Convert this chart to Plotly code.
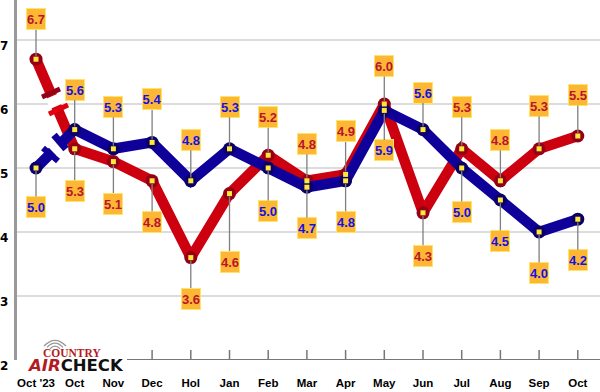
import plotly.graph_objects as go

# ---- data ----
months = ["Oct '23", "Oct", "Nov", "Dec", "Hol", "Jan", "Feb", "Mar", "Apr", "May", "Jun", "Jul", "Aug", "Sep", "Oct"]
red_values = [6.7, 5.3, 5.1, 4.8, 3.6, 4.6, 5.2, 4.8, 4.9, 6.0, 4.3, 5.3, 4.8, 5.3, 5.5]
blue_values = [5.0, 5.6, 5.3, 5.4, 4.8, 5.3, 5.0, 4.7, 4.8, 5.9, 5.6, 5.0, 4.5, 4.0, 4.2]
y_ticks = [2, 3, 4, 5, 6, 7]

# ---- label placement (pixel offset from each point) ----
red_offsets = [-40, 42, 42, 41, 41, 68, -38, -37, -43, -38, 43, -42, -41, -43, -41]
blue_offsets = [39, -40, -42, -43, -41, -42, 43, 41, 41, 40, -37, 44, 41, 41, 41]

# ---- geometry / style ----
W, H = 600, 392
PLOT_L, PLOT_B = 17, 32
PLOT_BOTTOM = H - PLOT_B
X0, STEP = 36.0, 38.7
Y7 = 40.0
UNIT = (PLOT_BOTTOM - Y7) / 5
RED, RED_DK = "#cc000f", "#940016"
BLUE, BLUE_DK = "#10009a", "#0a0068"
xs = list(range(len(months)))


def px_x(px):
    return (px - X0) / STEP


def px_y(py):
    return 7 - (py - Y7) / UNIT


def pap_x(px):
    return (px - PLOT_L) / (W - PLOT_L)


def pap_y(py):
    return (PLOT_BOTTOM - py) / PLOT_BOTTOM


fig = go.Figure()

# series lines, red below blue
for vals, col, dk, name in [(red_values, RED, RED_DK, "red"), (blue_values, BLUE, BLUE_DK, "blue")]:
    fig.add_trace(go.Scatter(x=xs, y=vals, mode="lines", name=name,
                             line=dict(color=col, width=10.5, shape="linear"),
                             hoverinfo="skip"))
    fig.add_trace(go.Scatter(x=xs, y=vals, mode="markers", name=name + " joints",
                             marker=dict(color=dk, size=13, line=dict(width=0)),
                             hoverinfo="skip"))
for vals in (red_values, blue_values):
    fig.add_trace(go.Scatter(x=xs, y=vals, mode="markers",
                             marker=dict(symbol="square", color="#ffe838", size=5,
                                         line=dict(width=0)),
                             hoverinfo="skip"))

shapes = []


def seg(x1, y1, x2, y2, col, w):
    shapes.append(dict(type="line", xref="x", yref="y", x0=px_x(x1), y0=px_y(y1),
                       x1=px_x(x2), y1=px_y(y2), line=dict(color=col, width=w)))


# axis-break marks on the first segment
seg(52.5, 96, 57, 106, "white", 15)      # red gap
seg(42, 97, 60, 89, RED_DK, 5)
seg(49, 114, 68, 105, "#e0000f", 5)
seg(52, 151, 60, 143.5, "white", 16)      # blue gap
seg(43, 148, 58, 161, BLUE, 6)
seg(54, 135, 66, 149, BLUE, 7)

# bottom ticks
for x in xs:
    shapes.append(dict(type="line", xref="x", yref="paper", x0=x, x1=x, y0=0, y1=10 / PLOT_BOTTOM,
                       line=dict(color="#777777", width=1.5)))

# white patch behind the logo
shapes.append(dict(type="rect", xref="paper", yref="paper", x0=pap_x(19), x1=pap_x(127),
                   y0=pap_y(374), y1=pap_y(348), fillcolor="white", line=dict(width=0)))
# logo radio arcs, drawn as plain x/y paths in data coordinates
for r, top in [(5, 346), (8, 343), (11, 340)]:
    cx = 55
    base = top + r * 0.55
    shapes.append(dict(type="path", xref="x", yref="y", layer="above",
                       path=f"M {px_x(cx - r):.4f},{px_y(base):.4f} Q {px_x(cx):.4f},{px_y(top - r * 0.5):.4f} {px_x(cx + r):.4f},{px_y(base):.4f}",
                       line=dict(color="#999999", width=1.3)))

annotations = []
BOX_FONT = "Liberation Sans"
for vals, offs, col in [(red_values, red_offsets, "#b8142e"), (blue_values, blue_offsets, "#1212e6")]:
    for x, v, off in zip(xs, vals, offs):
        annotations.append(dict(x=x, y=v, xref="x", yref="y", ax=0, ay=off, axref="pixel", ayref="pixel",
                                text=f"<b>{v:.1f}</b>", showarrow=True, arrowhead=0, arrowwidth=1.3,
                                arrowcolor="#808080", standoff=3,
                                font=dict(family=BOX_FONT, size=13, color=col),
                                bgcolor="#fdb734", bordercolor="#ffe46a", borderwidth=1,
                                width=18, height=20, borderpad=0, align="center", valign="middle"))

# y tick labels sit a little below their gridlines in the reference
for t in y_ticks:
    annotations.append(dict(x=0, y=t, xref="paper", yref="y", xanchor="center", yanchor="middle", xshift=-13,
                            yshift=-6, text=f"<b>{t}</b>", showarrow=False,
                            font=dict(family="DejaVu Sans", size=12, color="black")))

# logo
annotations.append(dict(x=pap_x(72), y=pap_y(353), xref="paper", yref="paper",
                        text='<b>COUNTRY</b>', showarrow=False, xanchor="center", yanchor="middle",
                        font=dict(family="Liberation Serif", size=11.5, color="#b31b22")))
annotations.append(dict(x=pap_x(75), y=pap_y(365), xref="paper", yref="paper",
                        text='<b><i><span style="color:#b31b22">AIR</span></i>CHECK</b>', showarrow=False,
                        xanchor="center", yanchor="middle",
                        font=dict(family="DejaVu Sans", size=16.5, color="#111111")))

fig.update_layout(
    width=W, height=H, autosize=False,
    margin=dict(l=PLOT_L, r=0, t=0, b=PLOT_B, pad=0),
    paper_bgcolor="white", plot_bgcolor="white", showlegend=False,
    shapes=shapes, annotations=annotations,
    xaxis=dict(range=[px_x(PLOT_L), px_x(W)], tickmode="array", tickvals=xs, ticktext=[f"<b>{m}</b>" for m in months],
               showgrid=False, zeroline=False, showline=False, ticks="", ticklabelstandoff=14,
               tickfont=dict(family="Liberation Sans", size=11.5, color="black"), tickangle=0),
    yaxis=dict(range=[2, px_y(0)], tickmode="array", tickvals=y_ticks, showticklabels=False,
               showgrid=True, gridcolor="#dcdcdc", gridwidth=2, zeroline=False,
               showline=True, linecolor="#999999", linewidth=3, ticks=""),
)
# baseline at value 2
fig.add_shape(type="line", xref="paper", yref="y", x0=pap_x(127), x1=1, y0=2, y1=2,
              line=dict(color="#777777", width=2))

fig.write_html("out.html", config=dict(displayModeBar=False),
               post_script="document.body.style.margin='0';document.documentElement.style.margin='0';")
